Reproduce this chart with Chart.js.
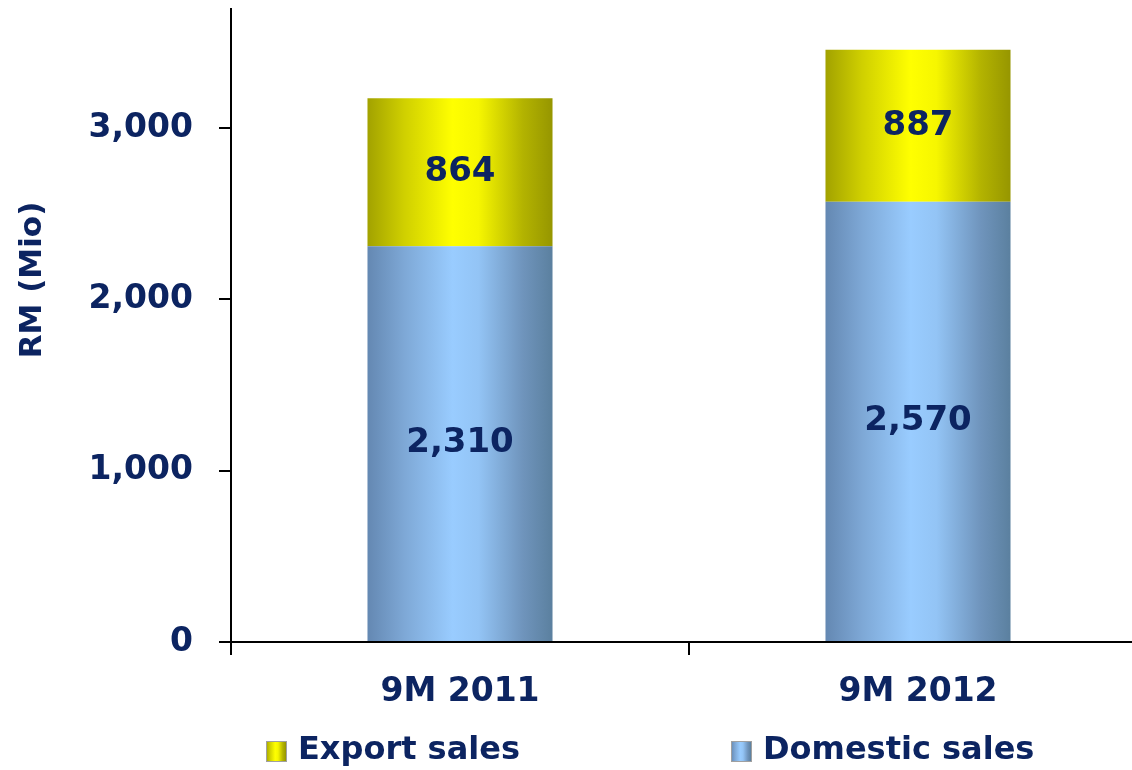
<!DOCTYPE html>
<html>
<head>
<meta charset="utf-8">
<title>Sales 9M 2011 vs 9M 2012</title>
<script src="https://cdn.jsdelivr.net/npm/chart.js@4.4.0/dist/chart.umd.min.js"></script>
<style>
  html, body { margin: 0; padding: 0; background: #fff; overflow: hidden; }
  #wrap { position: relative; width: 1150px; height: 770px; }
</style>
</head>
<body>
<div id="wrap"><canvas id="salesChart"></canvas></div>
<script>
// chart data
const categories = ['9M 2011', '9M 2012'];
const domesticSales = [2310, 2570];
const exportSales = [864, 887];
const yTicks = [0, 1000, 2000, 3000];
const yTitle = 'RM (Mio)';

const NAVY = '#0c2461';
const FONT = "'DejaVu Sans', Verdana, sans-serif";
const BAR_SHARE = 0.404;

const blueStops = [[0, '#6488b2'], [0.2, '#7ea8d6'], [0.46, '#99ccff'], [0.6, '#93c4f5'], [0.84, '#6f94bc'], [1, '#5b809f']];
const yellowStops = [[0, '#a2a200'], [0.2, '#d0d000'], [0.46, '#ffff00'], [0.6, '#f6f600'], [0.84, '#b3b300'], [1, '#969600']];

function fmt(v) {
  return v.toString().replace(/\B(?=(\d{3})+(?!\d))/g, ',');
}

// horizontal shading across each bar
function barGradient(context, stops) {
  const chart = context.chart;
  if (!chart.chartArea) return stops[2][1];
  const xScale = chart.scales.x;
  const center = xScale.getPixelForValue(context.dataIndex);
  const half = (xScale.width / categories.length) * BAR_SHARE / 2;
  const g = chart.ctx.createLinearGradient(center - half, 0, center + half, 0);
  stops.forEach((s) => g.addColorStop(s[0], s[1]));
  return g;
}

// numbers in the middle of each segment
const segmentLabels = {
  id: 'segmentLabels',
  afterDatasetsDraw(chart) {
    const ctx = chart.ctx;
    ctx.save();
    ctx.font = `bold 34px ${FONT}`;
    ctx.fillStyle = NAVY;
    ctx.textAlign = 'center';
    ctx.textBaseline = 'middle';
    chart.data.datasets.forEach((ds, i) => {
      chart.getDatasetMeta(i).data.forEach((bar, j) => {
        ctx.fillText(fmt(ds.data[j]), bar.x, (bar.y + bar.base) / 2);
      });
    });
    ctx.restore();
  },
};

// y title and legend along the bottom
const extras = {
  id: 'extras',
  afterDraw(chart) {
    const ctx = chart.ctx;
    ctx.save();
    ctx.fillStyle = NAVY;
    ctx.font = `bold 31px ${FONT}`;
    ctx.textAlign = 'center';
    ctx.textBaseline = 'middle';
    ctx.translate(33, 280);
    ctx.rotate(-Math.PI / 2);
    ctx.fillText(yTitle, 0, 0);
    ctx.restore();

    const legendX = [266, 731];
    const items = chart.data.datasets.slice().reverse();
    items.forEach((ds, i) => {
      const x = legendX[i];
      const stops = ds.label === 'Export sales' ? yellowStops : blueStops;
      const g = ctx.createLinearGradient(x, 0, x + 20, 0);
      stops.forEach((s) => g.addColorStop(s[0], s[1]));
      ctx.save();
      ctx.fillStyle = g;
      ctx.fillRect(x, 741, 20, 21);
      ctx.strokeStyle = '#a0a0a0';
      ctx.lineWidth = 1;
      ctx.strokeRect(x + 0.5, 741.5, 20, 20);
      ctx.fillStyle = NAVY;
      ctx.font = `bold 32px ${FONT}`;
      ctx.textAlign = 'left';
      ctx.textBaseline = 'middle';
      ctx.fillText(ds.label, x + 32, 751);
      ctx.restore();
    });
  },
};

const salesCtx = document.getElementById('salesChart');
new Chart(salesCtx, {
  type: 'bar',
  data: {
    labels: categories,
    datasets: [
      {
        label: 'Domestic sales',
        data: domesticSales,
        backgroundColor: (c) => barGradient(c, blueStops),
      },
      {
        label: 'Export sales',
        data: exportSales,
        backgroundColor: (c) => barGradient(c, yellowStops),
      },
    ],
  },
  options: {
    responsive: true,
    maintainAspectRatio: false,
    animation: false,
    categoryPercentage: 1,
    barPercentage: BAR_SHARE,
    layout: { padding: { top: 9, right: 3, bottom: 0, left: 0 } },
    plugins: {
      legend: { display: false },
      tooltip: { enabled: false },
    },
    scales: {
      x: {
        stacked: true,
        afterFit: (scale) => {
          scale.height = 128;
          scale.paddingLeft = 0;
          scale.paddingRight = 0;
        },
        border: { color: '#000', width: 2 },
        grid: { offset: true, drawOnChartArea: false, color: '#000', lineWidth: 2, tickLength: 13 },
        ticks: { color: NAVY, font: { family: FONT, size: 33, weight: 'bold' }, padding: 18 },
      },
      y: {
        stacked: true,
        min: 0,
        max: 3695,
        afterFit: (scale) => {
          scale.width = 231;
          scale.paddingTop = 0;
          scale.paddingBottom = 0;
        },
        afterBuildTicks: (scale) => { scale.ticks = yTicks.map((v) => ({ value: v })); },
        border: { color: '#000', width: 2 },
        grid: { drawOnChartArea: false, color: '#000', lineWidth: 2, tickLength: 12 },
        ticks: {
          color: NAVY,
          font: { family: FONT, size: 33, weight: 'bold' },
          padding: 26,
          callback: (v) => fmt(v),
        },
      },
    },
  },
  plugins: [segmentLabels, extras],
});
</script>
</body>
</html>
